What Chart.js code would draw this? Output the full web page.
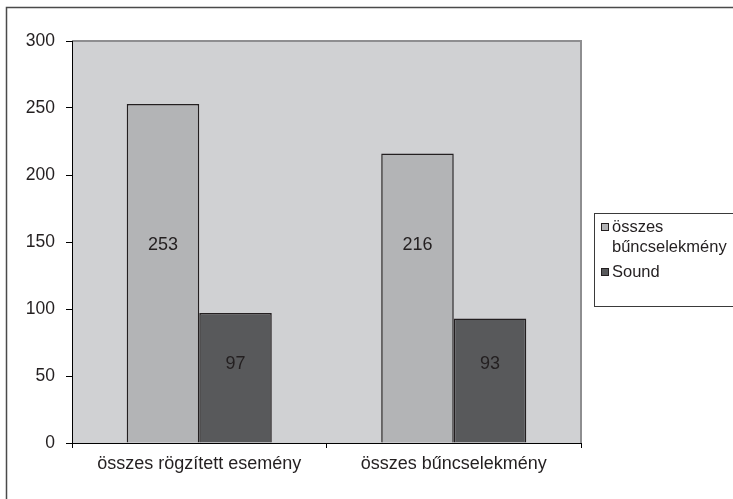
<!DOCTYPE html>
<html>
<head>
<meta charset="utf-8">
<script src="https://cdn.jsdelivr.net/npm/chart.js@4/dist/chart.umd.min.js"></script>
<style>
html,body{margin:0;padding:0;background:#fff;}
canvas{display:block;}
</style>
</head>
<body>
<canvas id="c" width="733" height="499"></canvas>
<script>
const categories = ["összes rögzített esemény", "összes bűncselekmény"];
const seriesNames = ["összes bűncselekmény", "Sound"];
const seriesA = [253, 216];
const seriesB = [97, 93];
const yTicks = [0, 50, 100, 150, 200, 250, 300];

const FONT = "'Liberation Sans', Arial, sans-serif";
const TEXT = "#231f20";

const frame = {
  id: 'frame',
  beforeDraw(chart) {
    const {ctx, chartArea: a} = chart;
    ctx.save();
    ctx.fillStyle = '#fff';
    ctx.fillRect(0, 0, chart.width, chart.height);
    ctx.strokeStyle = '#4a4a4a';
    ctx.lineWidth = 1.5;
    ctx.beginPath();
    ctx.moveTo(6.5, chart.height);
    ctx.lineTo(6.5, 7.5);
    ctx.lineTo(chart.width, 7.5);
    ctx.stroke();
    ctx.fillStyle = '#d0d1d3';
    ctx.fillRect(a.left, a.top, a.right - a.left, a.bottom - a.top);
    ctx.strokeStyle = '#8e8e90';
    ctx.lineWidth = 2;
    ctx.beginPath();
    ctx.moveTo(a.left, a.top);
    ctx.lineTo(a.right, a.top);
    ctx.lineTo(a.right, a.bottom);
    ctx.stroke();
    ctx.restore();
  }
};

const labelAt = [148, 59];
const dataLabels = {
  id: 'dataLabels',
  afterDatasetsDraw(chart) {
    const {ctx} = chart;
    const ys = chart.scales.y;
    ctx.save();
    ctx.font = "18px " + FONT;
    ctx.fillStyle = TEXT;
    ctx.textAlign = 'center';
    ctx.textBaseline = 'middle';
    chart.data.datasets.forEach((ds, i) => {
      const meta = chart.getDatasetMeta(i);
      meta.data.forEach((bar, j) => {
        ctx.fillText(String(ds.data[j]), bar.x, ys.getPixelForValue(labelAt[i]));
      });
    });
    ctx.restore();
  }
};

const customLegend = {
  id: 'customLegend',
  afterDraw(chart) {
    const {ctx} = chart;
    ctx.save();
    ctx.strokeStyle = '#3a3a3a';
    ctx.lineWidth = 1;
    ctx.strokeRect(594.5, 213.5, 200, 93);
    ctx.font = "16.5px " + FONT;
    ctx.textBaseline = 'middle';
    ctx.textAlign = 'left';
    let y = 227;
    const maxW = 118;
    chart.data.datasets.forEach((ds) => {
      const words = ds.label.split(' ');
      const lines = [];
      let cur = '';
      words.forEach(w => {
        const t = cur ? cur + ' ' + w : w;
        if (ctx.measureText(t).width > maxW && cur) { lines.push(cur); cur = w; }
        else cur = t;
      });
      if (cur) lines.push(cur);
      ctx.fillStyle = ds.backgroundColor;
      ctx.fillRect(601, y - 4, 7, 7);
      ctx.strokeStyle = TEXT;
      ctx.strokeRect(601.5, y - 3.5, 7, 7);
      ctx.fillStyle = TEXT;
      lines.forEach((ln, k) => ctx.fillText(ln, 612, y + k * 20));
      y += (lines.length - 1) * 20 + 25;
    });
    ctx.restore();
  }
};

new Chart(document.getElementById('c'), {
  type: 'bar',
  data: {
    labels: categories,
    datasets: [
      { label: seriesNames[0], data: seriesA, backgroundColor: '#b3b4b6', borderColor: TEXT, borderWidth: 1.5 },
      { label: seriesNames[1], data: seriesB, backgroundColor: '#58595b', borderColor: TEXT, borderWidth: 1.5 }
    ]
  },
  options: {
    responsive: false,
    animation: false,
    layout: { padding: { top: 41, right: 152, left: 0, bottom: 0 } },
    datasets: { bar: { barPercentage: 1, categoryPercentage: 0.57 } },
    plugins: { legend: { display: false }, tooltip: { enabled: false } },
    scales: {
      x: {
        afterFit(s) { s.height = 56; },
        grid: { offset: true, drawOnChartArea: false, drawTicks: true, tickLength: 5, color: '#000' },
        border: { color: '#000', width: 1 },
        ticks: { color: TEXT, font: { family: FONT, size: 18 }, padding: 5 }
      },
      y: {
        min: 0, max: 300,
        afterFit(s) { s.width = 72; },
        afterBuildTicks(s) { s.ticks = yTicks.map(v => ({ value: v })); },
        grid: { drawOnChartArea: false, drawTicks: true, tickLength: 6, color: '#000' },
        border: { color: '#000', width: 1 },
        ticks: { color: TEXT, font: { family: FONT, size: 17.5 }, padding: 11 }
      }
    }
  },
  plugins: [frame, dataLabels, customLegend]
});
</script>
</body>
</html>
